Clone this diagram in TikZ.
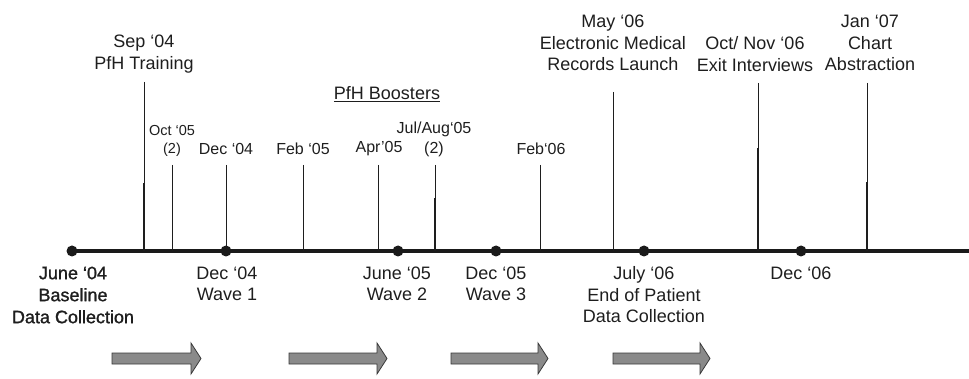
\documentclass[tikz,border=0pt]{standalone}
\usepackage{fontspec}
\setmainfont{Liberation Sans}
\newfontfamily\fbold[FakeBold=1.3]{Liberation Sans}
\definecolor{txt}{HTML}{1E1E1E}
\definecolor{axis}{HTML}{1A1A1A}
\definecolor{arrfill}{HTML}{8A8A8A}
\definecolor{arrdraw}{HTML}{3A3A3A}
\newcommand{\blkarrow}[2]{%
  \filldraw[arrowshape] (#1,353) -- ({#2-10},353) -- ({#2-10},343) -- (#2,358.5)
    -- ({#2-10},374) -- ({#2-10},364) -- (#1,364) -- cycle;}
\begin{document}
\begin{tikzpicture}[x=1pt,y=-1pt,
  lab/.style={font=\fontsize{18}{21.5}\selectfont, align=center, inner sep=0pt, text=txt},
  boost/.style={font=\fontsize{16}{20}\selectfont, align=center, inner sep=0pt, text=txt},
  tiny/.style={font=\fontsize{14.5}{18}\selectfont, align=center, inner sep=0pt, text=txt},
  tick/.style={line width=0.9pt, draw=txt},
  tickthick/.style={line width=1.6pt, draw=txt},
  axisline/.style={line width=3.6pt, draw=axis},
  dot/.style={circle, fill=axis, inner sep=0pt, minimum size=11pt},
  arrowshape/.style={fill=arrfill, draw=arrdraw, line width=0.8pt}]
\useasboundingbox (0,0) rectangle (969,379);

% axis
\coordinate (axL) at (72,251);
\coordinate (axR) at (969,251);
\draw[axisline] (axL) -- (axR);

% tick coordinates
\foreach \n/\x/\t in {sep/144/82, oct/172/165, decu/226/165, feb/303/165, apr/378/165,
    jul/435/165, febs/540/165, may/613/92, exit/758/83, jan/867/83}{
  \coordinate (\n-top) at (\x,\t);
  \coordinate (\n-bot) at (\x,251);
}
\foreach \n in {sep,oct,decu,feb,apr,jul,febs,may,exit,jan}{
  \draw[tick] (\n-top) -- (\n-bot);
}
% thicker lower segments
\coordinate (sepmid) at (144,183);
\coordinate (exitmid) at (758,148);
\coordinate (julmid) at (435,198);
\coordinate (janmid) at (867,182);
\draw[tickthick] (sepmid) -- (sep-bot);
\draw[tickthick] (exitmid) -- (exit-bot);
\draw[tickthick] (julmid) -- (jul-bot);
\draw[tickthick] (janmid) -- (jan-bot);

% dots
\node[dot] (d1) at (72,251) {};
\node[dot] (d2) at (226,251) {};
\node[dot] (d3) at (398,251) {};
\node[dot] (d4) at (496,251) {};
\node[dot] (d5) at (644,251) {};
\node[dot] (d6) at (801,251) {};

% upper labels
\node[lab] (lsep) at (144,54) {Sep ‘04\\PfH Training};
\node[tiny] (loct) at (172,141) {Oct ‘05\\(2)};
\node[boost] (ldecu) at (226,149) {Dec ‘04};
\node[boost] (lfeb) at (303,149) {Feb ‘05};
\node[boost] (lapr) at (379,149) {Apr’05};
\node[boost] (ljul) at (434,139.5) {Jul/Aug‘05\\(2)};
\node[boost] (lfebs) at (541,149) {Feb‘06};
\node[lab] (lboost) at (387,94) {\underline{PfH Boosters}};
\node[lab] (lmay) at (613,43) {May ‘06\\Electronic Medical\\Records Launch};
\node[lab] (lexit) at (755,54) {Oct/ Nov ‘06\\Exit Interviews};
\node[lab] (ljan) at (870,43) {Jan ‘07\\Chart\\Abstraction};

% lower labels
\node[lab, font=\fontsize{18}{22}\fbold] (bjune) at (73,295) {June ‘04\\Baseline\\Data Collection};
\node[lab] (bdec4) at (227,284) {Dec ‘04\\Wave 1};
\node[lab] (bjune5) at (397,284) {June ‘05\\Wave 2};
\node[lab] (bdec5) at (496,284) {Dec ‘05\\Wave 3};
\node[lab] (bjuly) at (644,295) {July ‘06\\End of Patient\\Data Collection};
\node[lab] (bdec6) at (801,273) {Dec ‘06};

% block arrows
\blkarrow{112}{201}
\blkarrow{289}{387}
\blkarrow{451}{548}
\blkarrow{613}{710}
\end{tikzpicture}
\end{document}
